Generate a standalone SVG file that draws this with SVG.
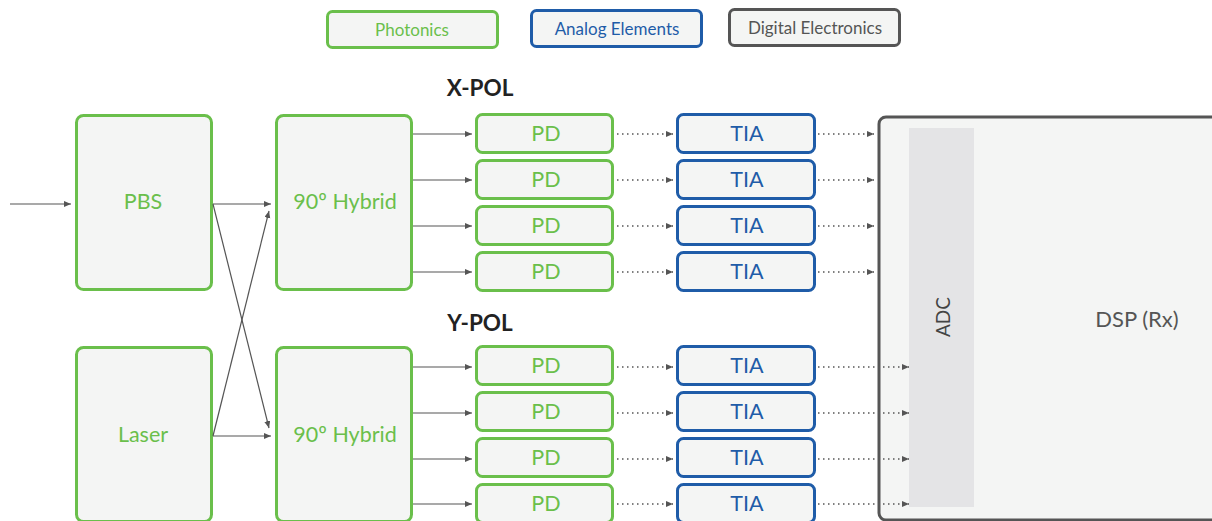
<svg xmlns="http://www.w3.org/2000/svg" width="1212" height="521" viewBox="0 0 1212 521">
<style>
.ph{fill:#f4f5f4;stroke:#6abf4b;stroke-width:3}
.an{fill:#f4f5f4;stroke:#1f5ca8;stroke-width:3}
.dg{fill:#f4f5f4;stroke:#555;stroke-width:3}
.t{font-family:Lato,"Liberation Sans",sans-serif;text-anchor:middle;dominant-baseline:central}
.tg{fill:#6abf4b;font-size:21.5px}
.tb{fill:#1f5ca8;font-size:21.5px}
.tk{fill:#555;font-size:22px}
.lg{font-size:17px}
.hd{font-family:Lato,"Liberation Sans",sans-serif;font-weight:bold;font-size:22.5px;fill:#222;text-anchor:middle;dominant-baseline:central}
.c{stroke:#555;stroke-width:1.2;fill:none;marker-end:url(#ah)}
.d{stroke:#555;stroke-width:1.5;fill:none;stroke-dasharray:1.5 3.5;marker-end:url(#ah)}
</style>
<defs>
<marker id="ah" markerUnits="userSpaceOnUse" markerWidth="8" markerHeight="7" refX="7" refY="3" orient="auto">
<path d="M0,0 L7,3 L0,6 z" fill="#555"/>
</marker>
</defs>
<g id="legend">
<g id="legend-photonics"><rect class="ph" x="327.5" y="11.5" width="170" height="36" rx="5"/><text class="t tg lg" x="412" y="29.5">Photonics</text></g>
<g id="legend-analog"><rect class="an" x="531.5" y="10.5" width="170" height="36" rx="5"/><text class="t tb lg" x="617" y="28.5">Analog Elements</text></g>
<g id="legend-digital"><rect class="dg" x="729.5" y="9.5" width="170" height="36" rx="5"/><text class="t tk lg" x="815" y="27.5">Digital Electronics</text></g>
</g>
<text class="hd" x="480" y="87">X-POL</text>
<text class="hd" x="480" y="322">Y-POL</text>
<g id="dsp"><rect class="dg" x="879" y="117" width="400" height="403" rx="7"/>
<text class="t tk" x="1137" y="318">DSP (Rx)</text></g>
<g id="adc"><rect x="909" y="128" width="65" height="379" fill="#e4e4e6"/>
<text class="t" style="fill:#444;font-size:19px" transform="translate(942,317) rotate(-90)">ADC</text></g>
<g id="pbs"><rect class="ph" x="76.5" y="115.5" width="135" height="174" rx="7"/><text class="t tg" x="143" y="201">PBS</text></g>
<g id="laser"><rect class="ph" x="76.5" y="347.5" width="135" height="174" rx="7"/><text class="t tg" x="143" y="434">Laser</text></g>
<g id="hybrid-x"><rect class="ph" x="276.5" y="115.5" width="135" height="174" rx="7"/><text class="t tg" x="345" y="201">90º Hybrid</text></g>
<g id="hybrid-y"><rect class="ph" x="276.5" y="347.5" width="135" height="174" rx="7"/><text class="t tg" x="345" y="434">90º Hybrid</text></g>
<g id="pd-x1"><rect class="ph" x="476.5" y="114.5" width="136" height="38" rx="6"/><text class="t tg" x="546" y="133">PD</text></g>
<g id="pd-x2"><rect class="ph" x="476.5" y="160.5" width="136" height="38" rx="6"/><text class="t tg" x="546" y="179">PD</text></g>
<g id="pd-x3"><rect class="ph" x="476.5" y="206.5" width="136" height="38" rx="6"/><text class="t tg" x="546" y="225">PD</text></g>
<g id="pd-x4"><rect class="ph" x="476.5" y="252.5" width="136" height="38" rx="6"/><text class="t tg" x="546" y="271">PD</text></g>
<g id="pd-y1"><rect class="ph" x="476.5" y="346.5" width="136" height="38" rx="6"/><text class="t tg" x="546" y="365">PD</text></g>
<g id="pd-y2"><rect class="ph" x="476.5" y="392.5" width="136" height="38" rx="6"/><text class="t tg" x="546" y="411">PD</text></g>
<g id="pd-y3"><rect class="ph" x="476.5" y="438.5" width="136" height="38" rx="6"/><text class="t tg" x="546" y="457">PD</text></g>
<g id="pd-y4"><rect class="ph" x="476.5" y="484.5" width="136" height="38" rx="6"/><text class="t tg" x="546" y="503">PD</text></g>
<g id="tia-x1"><rect class="an" x="677.5" y="114.5" width="137" height="38" rx="6"/><text class="t tb" x="747" y="133">TIA</text></g>
<g id="tia-x2"><rect class="an" x="677.5" y="160.5" width="137" height="38" rx="6"/><text class="t tb" x="747" y="179">TIA</text></g>
<g id="tia-x3"><rect class="an" x="677.5" y="206.5" width="137" height="38" rx="6"/><text class="t tb" x="747" y="225">TIA</text></g>
<g id="tia-x4"><rect class="an" x="677.5" y="252.5" width="137" height="38" rx="6"/><text class="t tb" x="747" y="271">TIA</text></g>
<g id="tia-y1"><rect class="an" x="677.5" y="346.5" width="137" height="38" rx="6"/><text class="t tb" x="747" y="365">TIA</text></g>
<g id="tia-y2"><rect class="an" x="677.5" y="392.5" width="137" height="38" rx="6"/><text class="t tb" x="747" y="411">TIA</text></g>
<g id="tia-y3"><rect class="an" x="677.5" y="438.5" width="137" height="38" rx="6"/><text class="t tb" x="747" y="457">TIA</text></g>
<g id="tia-y4"><rect class="an" x="677.5" y="484.5" width="137" height="38" rx="6"/><text class="t tb" x="747" y="503">TIA</text></g>
<g id="connectors">
<path class="c" d="M10,204 H71"/>
<path class="c" d="M213,204 H271"/>
<path class="c" d="M213,436 H271"/>
<path class="c" d="M213,204 L269,428"/>
<path class="c" d="M213,436 L269,211"/>
<path class="c" d="M413,134 H472"/>
<path class="c" d="M413,180 H472"/>
<path class="c" d="M413,226 H472"/>
<path class="c" d="M413,272 H472"/>
<path class="c" d="M413,367 H472"/>
<path class="c" d="M413,413 H472"/>
<path class="c" d="M413,459 H472"/>
<path class="c" d="M413,504 H472"/>
<path class="d" d="M617,134 H673"/>
<path class="d" d="M617,180 H673"/>
<path class="d" d="M617,226 H673"/>
<path class="d" d="M617,272 H673"/>
<path class="d" d="M617,367 H673"/>
<path class="d" d="M617,413 H673"/>
<path class="d" d="M617,459 H673"/>
<path class="d" d="M617,504 H673"/>
<path class="d" d="M818,134 H874"/>
<path class="d" d="M818,180 H874"/>
<path class="d" d="M818,226 H874"/>
<path class="d" d="M818,272 H874"/>
<path class="d" d="M818,367 H909"/>
<path class="d" d="M818,413 H909"/>
<path class="d" d="M818,459 H909"/>
<path class="d" d="M818,504 H909"/>
</g>
</svg>
